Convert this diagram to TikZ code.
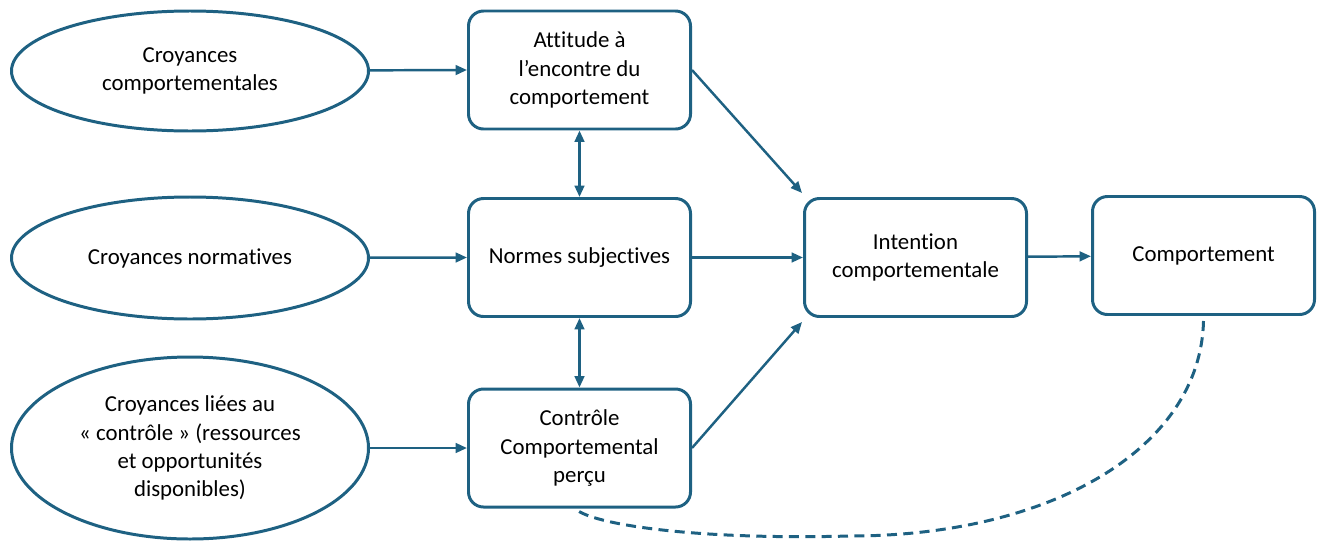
\documentclass[tikz,border=0pt]{standalone}
\usepackage{fontspec}
\setmainfont[Ligatures={NoCommon}]{Carlito}
\usetikzlibrary{arrows.meta}
\usetikzlibrary{positioning}
\usetikzlibrary{shapes.geometric}

\definecolor{tbpblue}{RGB}{30,97,130}

\begin{document}
\begin{tikzpicture}[
        font=\fontsize{13}{16}\selectfont,
        block/.style={rectangle, rounded corners=0.3cm, draw=tbpblue, line width=1.7pt, minimum width=4.44cm, minimum height=2.36cm, align=center, inner sep=0pt},
        belief/.style={ellipse, draw=tbpblue, line width=1.7pt, minimum width=7.14cm, minimum height=2.4cm, align=center, inner sep=0pt},
        arrow/.style={-{Triangle[length=6.5pt,width=5.5pt]}, draw=tbpblue, line width=1.4pt},
        both/.style={{Triangle[length=6.5pt,width=5.5pt]}-{Triangle[length=6.5pt,width=5.5pt]}, draw=tbpblue, line width=1.4pt}
        ]
        \useasboundingbox (0,0) rectangle (26.44,-10.88);

        % Croyances (ellipses)
        \node (cbehav)  [belief] at (3.8,-1.42) {Croyances\\comportementales};
        \node (cnorm)   [belief, minimum height=2.44cm] at (3.8,-5.16) {Croyances normatives};
        \node (ccontrol)[belief, minimum height=3.64cm] at (3.8,-8.96) {Croyances liées au\\« contrôle » (ressources\\et opportunités\\disponibles)};

        % Blocs
        \node (attitude)  [block] at (11.59,-1.4) {Attitude à\\l’encontre du\\comportement};
        \node (normes)    [block] at (11.59,-5.15) {Normes subjectives};
        \node (controle)  [block] at (11.59,-8.96) {Contrôle\\Comportemental\\perçu};
        \node (intention) [block] at (18.31,-5.15) {Intention\\comportementale};
        \node (comport)   [block] at (24.07,-5.11) {Comportement};

        % Fleches
        \draw[arrow] (cbehav)   -- (attitude.west);
        \draw[arrow] (cnorm)    -- (normes.west);
        \draw[arrow] (ccontrol) -- (controle.west);
        \draw[both] (attitude) -- (normes);
        \draw[both] (normes)   -- (controle);
        \draw[arrow] (attitude.east) -- ([xshift=-0.02cm,yshift=0.08cm]intention.north west);
        \draw[arrow] (normes)    -- (intention);
        \draw[arrow] (controle.east) -- ([xshift=-0.02cm,yshift=-0.08cm]intention.south west);
        \draw[arrow] (intention) -- (comport);

        % Retour
        \coordinate (bend) at (17,-10.72);
        \draw[tbpblue, line width=1.7pt, dash pattern=on 5.7pt off 3.6pt]
            ([yshift=-0.1cm]comport.south) .. controls +(-0.06,-2.56) and +(4,0) .. (bend)
            .. controls +(-3,-0.08) and +(0.44,-0.3) .. ([xshift=-0.04cm,yshift=-0.04cm]controle.south);

    \end{tikzpicture}
\end{document}
